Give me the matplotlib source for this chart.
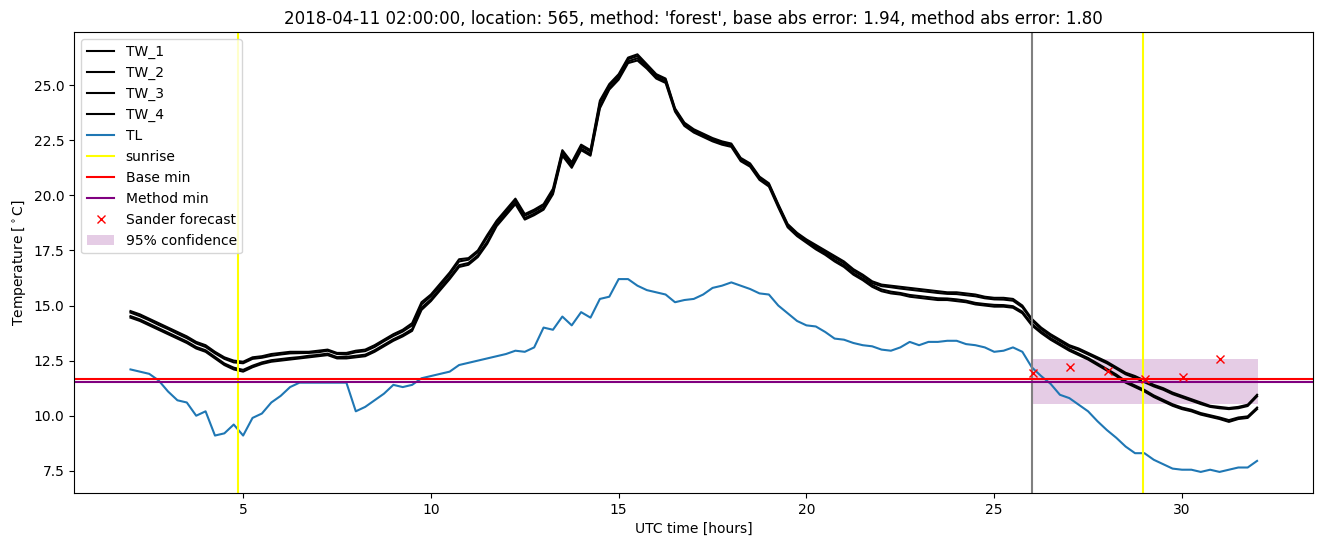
import numpy as np
import matplotlib
matplotlib.use("Agg")
import matplotlib.pyplot as plt

# time axis, 15 minute steps from 02:00 to 32:00 (UTC hours)
hours = np.arange(2.0, 32.01, 0.25)

TW_1 = [14.75, 14.6, 14.4, 14.2, 14.0, 13.8, 13.6, 13.35, 13.2, 12.9, 12.65, 12.5,
        12.45, 12.65, 12.7, 12.8, 12.85, 12.9, 12.9, 12.9, 12.95, 13.0, 12.85, 12.85,
        12.95, 13.0, 13.2, 13.45, 13.7, 13.9, 14.2, 15.15, 15.5, 16.0, 16.5, 17.1,
        17.15, 17.5, 18.2, 18.85, 19.35, 19.85, 19.15, 19.35, 19.6, 20.3, 22.05, 21.5,
        22.3, 22.05, 24.3, 25.05, 25.5, 26.25, 26.4, 25.95, 25.5, 25.3, 23.95, 23.3,
        23.0, 22.8, 22.6, 22.45, 22.35, 21.7, 21.45, 20.85, 20.55, 19.6, 18.7, 18.3,
        18.0, 17.75, 17.5, 17.25, 17.0, 16.65, 16.4, 16.1, 15.95, 15.9, 15.85, 15.8,
        15.75, 15.7, 15.65, 15.6, 15.6, 15.55, 15.5, 15.4, 15.35, 15.35, 15.3, 15.0,
        14.4, 14.0, 13.7, 13.45, 13.2, 13.05, 12.85, 12.65, 12.45, 12.2, 11.95, 11.8,
        11.6, 11.4, 11.25, 11.05, 10.9, 10.75, 10.6, 10.45, 10.4, 10.35, 10.4, 10.5,
        10.95]
TW_2 = [14.68, 14.52, 14.33, 14.12, 13.93, 13.72, 13.52, 13.28, 13.12, 12.83, 12.58, 12.42,
        12.38, 12.58, 12.63, 12.72, 12.78, 12.83, 12.84, 12.85, 12.88, 12.95, 12.8, 12.78,
        12.88, 12.93, 13.12, 13.38, 13.62, 13.82, 14.1, 15.05, 15.42, 15.9, 16.42, 17.0,
        17.08, 17.42, 18.1, 18.78, 19.28, 19.78, 19.08, 19.27, 19.52, 20.2, 21.98, 21.42,
        22.22, 21.98, 24.2, 24.98, 25.42, 26.18, 26.32, 25.9, 25.45, 25.25, 23.9, 23.25,
        22.95, 22.75, 22.55, 22.4, 22.3, 21.65, 21.4, 20.8, 20.5, 19.55, 18.65, 18.25,
        17.95, 17.68, 17.43, 17.17, 16.92, 16.57, 16.32, 16.02, 15.88, 15.83, 15.77, 15.72,
        15.67, 15.62, 15.57, 15.53, 15.52, 15.47, 15.42, 15.33, 15.28, 15.27, 15.22, 14.92,
        14.32, 13.93, 13.63, 13.38, 13.13, 12.98, 12.78, 12.58, 12.38, 12.13, 11.88, 11.72,
        11.52, 11.33, 11.18, 10.98, 10.83, 10.68, 10.53, 10.4, 10.34, 10.3, 10.34, 10.44,
        10.88]
TW_3 = [14.52, 14.37, 14.17, 13.97, 13.77, 13.57, 13.37, 13.12, 12.97, 12.67, 12.37, 12.18,
        12.08, 12.27, 12.42, 12.52, 12.57, 12.62, 12.66, 12.72, 12.76, 12.82, 12.66, 12.67,
        12.72, 12.77, 12.97, 13.22, 13.47, 13.67, 13.93, 14.9, 15.28, 15.78, 16.28, 16.83,
        16.93, 17.28, 17.9, 18.67, 19.18, 19.67, 18.97, 19.17, 19.42, 20.12, 21.87, 21.33,
        22.12, 21.87, 24.03, 24.87, 25.33, 26.08, 26.22, 25.82, 25.37, 25.17, 23.87, 23.22,
        22.92, 22.72, 22.52, 22.37, 22.27, 21.62, 21.37, 20.77, 20.47, 19.52, 18.62, 18.22,
        17.92, 17.62, 17.37, 17.07, 16.82, 16.47, 16.22, 15.93, 15.73, 15.63, 15.57, 15.48,
        15.43, 15.38, 15.33, 15.32, 15.28, 15.22, 15.12, 15.07, 15.03, 15.02, 14.97, 14.72,
        14.17, 13.82, 13.52, 13.27, 13.02, 12.82, 12.62, 12.37, 12.12, 11.87, 11.57, 11.37,
        11.17, 10.92, 10.72, 10.52, 10.37, 10.27, 10.12, 10.02, 9.92, 9.8, 9.92, 9.97,
        10.37]
TW_4 = [14.45, 14.3, 14.1, 13.9, 13.7, 13.5, 13.3, 13.05, 12.9, 12.6, 12.3, 12.1,
        12.0, 12.2, 12.35, 12.45, 12.5, 12.55, 12.6, 12.65, 12.7, 12.75, 12.6, 12.6,
        12.65, 12.7, 12.9, 13.15, 13.4, 13.6, 13.85, 14.8, 15.2, 15.7, 16.2, 16.75,
        16.85, 17.2, 17.8, 18.6, 19.1, 19.6, 18.9, 19.1, 19.35, 20.05, 21.8, 21.25,
        22.05, 21.8, 23.95, 24.8, 25.25, 26.0, 26.12, 25.75, 25.3, 25.1, 23.8, 23.15,
        22.85, 22.65, 22.45, 22.3, 22.2, 21.55, 21.3, 20.7, 20.4, 19.45, 18.55, 18.15,
        17.85, 17.55, 17.3, 17.0, 16.75, 16.4, 16.15, 15.85, 15.65, 15.55, 15.5, 15.4,
        15.35, 15.3, 15.25, 15.25, 15.2, 15.15, 15.05, 15.0, 14.95, 14.95, 14.9, 14.65,
        14.1, 13.75, 13.45, 13.2, 12.95, 12.75, 12.55, 12.3, 12.05, 11.8, 11.5, 11.3,
        11.1, 10.85, 10.65, 10.45, 10.3, 10.2, 10.05, 9.95, 9.85, 9.72, 9.85, 9.9,
        10.3]
TL = [12.1, 12.0, 11.9, 11.6, 11.1, 10.7, 10.6, 10.0, 10.2, 9.1, 9.2, 9.6,
      9.1, 9.9, 10.1, 10.6, 10.9, 11.3, 11.5, 11.5, 11.5, 11.5, 11.5, 11.5,
      10.2, 10.4, 10.7, 11.0, 11.4, 11.3, 11.4, 11.7, 11.8, 11.9, 12.0, 12.3,
      12.4, 12.5, 12.6, 12.7, 12.8, 12.95, 12.9, 13.1, 14.0, 13.9, 14.5, 14.1,
      14.7, 14.45, 15.3, 15.4, 16.2, 16.2, 15.9, 15.7, 15.6, 15.5, 15.15, 15.25,
      15.3, 15.5, 15.8, 15.9, 16.05, 15.9, 15.75, 15.55, 15.5, 15.0, 14.65, 14.3,
      14.1, 14.05, 13.8, 13.5, 13.45, 13.3, 13.2, 13.15, 13.0, 12.95, 13.1, 13.35,
      13.2, 13.35, 13.35, 13.4, 13.4, 13.25, 13.2, 13.1, 12.9, 12.95, 13.1, 12.9,
      12.2, 11.8, 11.45, 10.95, 10.8, 10.5, 10.2, 9.75, 9.35, 9.0, 8.6, 8.3,
      8.3, 8.0, 7.8, 7.6, 7.55, 7.55, 7.45, 7.55, 7.45, 7.55, 7.65, 7.65,
      7.95]

sunrise = [4.85, 28.95]
forecast_start = 26.0
base_min = 11.66
method_min = 11.52

sander_hours = [26.02, 27.02, 28.02, 29.02, 30.02, 31.02]
sander_temp = [11.93, 12.2, 12.05, 11.66, 11.77, 12.56]
conf_low = 10.54
conf_high = 12.56
conf_span = [26.02, 32.02]

fig = plt.figure(figsize=(13.24, 5.47), dpi=100)
ax = fig.add_subplot(111)
fig.subplots_adjust(left=0.056, right=0.992, top=0.941, bottom=0.099)

ax.plot(hours, TW_1, color="black", label="TW_1")
ax.plot(hours, TW_2, color="black", label="TW_2")
ax.plot(hours, TW_3, color="black", label="TW_3")
ax.plot(hours, TW_4, color="black", label="TW_4")
ax.plot(hours, TL, color="tab:blue", label="TL")

ax.axvline(sunrise[0], color="yellow", label="sunrise")
ax.axvline(sunrise[1], color="yellow")
ax.axvline(forecast_start, color="grey")
ax.axhline(base_min, color="red", label="Base min")
ax.axhline(method_min, color="purple", label="Method min")
ax.plot(sander_hours, sander_temp, "x", color="red", label="Sander forecast")
ax.fill_between(conf_span, conf_low, conf_high, color="purple", alpha=0.2,
                linewidth=0, label="95% confidence")

ax.set_xlim(0.5, 33.5)
ax.set_ylim(6.5, 27.4)
ax.set_xlabel("UTC time [hours]")
ax.set_ylabel("Temperature [$^\\circ$C]")
ax.set_title("2018-04-11 02:00:00, location: 565, method: 'forest', "
             "base abs error: 1.94, method abs error: 1.80")
ax.legend(loc="upper left")

plt.savefig("out.png", dpi=100)
